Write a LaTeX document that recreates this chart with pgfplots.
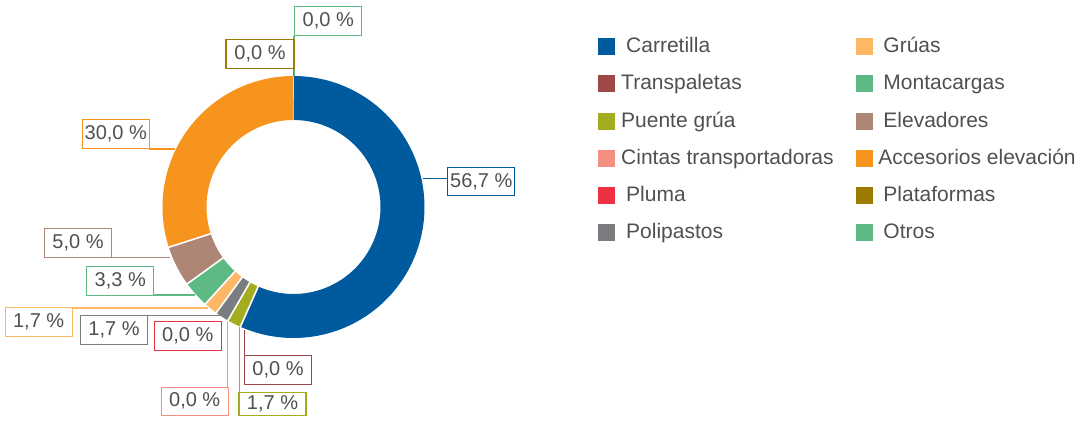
\documentclass[border=0pt]{standalone}
\usepackage{pgfplots}
\pgfplotsset{compat=1.18}
\usepackage{fontspec}
\setmainfont{Liberation Sans}
\definecolor{cCar}{HTML}{005A9E}
\definecolor{cTra}{HTML}{A04848}
\definecolor{cPue}{HTML}{A3AD1F}
\definecolor{cCin}{HTML}{F39080}
\definecolor{cPlu}{HTML}{EE3142}
\definecolor{cPol}{HTML}{7B7C80}
\definecolor{cGru}{HTML}{FDB765}
\definecolor{cMon}{HTML}{5DBA84}
\definecolor{cEle}{HTML}{AE8675}
\definecolor{cAcc}{HTML}{F7941E}
\definecolor{cPla}{HTML}{9C7B00}
\definecolor{cOtr}{HTML}{5DBA84}
\definecolor{txt}{HTML}{505050}
% sector: color, cumulative start (%), value (%)
\newcommand\sector[3]{%
  \pgfmathsetmacro\aS{90-3.6*(#2)/1.001}%
  \pgfmathsetmacro\aE{90-3.6*((#2)+(#3))/1.001}%
  \edef\tmp{\noexpand\addplot[draw=#1, line width=22pt, domain=\aE:\aS, samples=120, forget plot] ({293.5+109*cos(x)},{215+109*sin(x)});}%
  \tmp
  \edef\tmp{\noexpand\addplot[draw=white, line width=0.8pt, domain=84:134, samples=2, forget plot] ({293.5+x*cos(\aS)},{215+x*sin(\aS)});}%
  \tmp
}
\newcommand\legsq[2]{\addlegendimage{legend image code/.code={\fill[#1] (0pt,-4pt) rectangle (8pt,4pt);}}\addlegendentry{#2}}
\tikzset{lab/.style={draw=#1, line width=0.6pt, minimum width=33.5pt, minimum height=14.5pt, inner sep=0pt, text=txt, font=\fontsize{10}{12}\selectfont},
  lead/.style={draw=#1, line width=0.6pt}}
\begin{document}
\begin{tikzpicture}
\begin{axis}[
  width=545.5pt, height=211pt, scale only axis,
  xmin=0, xmax=1091, ymin=0, ymax=422,
  hide axis, clip=false,
  legend columns=2,
  legend cell align=left,
  legend style={at={(axis cs:598,389)}, anchor=north west, draw=none, fill=none,
    inner sep=0pt, row sep=5.4pt, text=txt,
    font=\fontsize{10.5}{12}\selectfont,
    /tikz/every odd column/.style={column sep=1pt},
    /tikz/every even column/.style={column sep=9pt}},
]
\addplot[draw=none, forget plot] coordinates {(0,0) (1091,422)};
% values in %, clockwise from top
\sector{cCar}{0}{56.7}
\sector{cPue}{56.7}{1.7}
\sector{cPol}{58.4}{1.7}
\sector{cGru}{60.1}{1.7}
\sector{cMon}{61.8}{3.3}
\sector{cEle}{65.1}{5.0}
\sector{cAcc}{70.1}{30.0}
% legend (row-wise order)
\legsq{cCar}{\hspace{2.5pt}Carretilla}
\legsq{cGru}{\hspace{2.5pt}Grúas}
\legsq{cTra}{Transpaletas}
\legsq{cMon}{\hspace{2.5pt}Montacargas}
\legsq{cPue}{Puente grúa}
\legsq{cEle}{\hspace{2.5pt}Elevadores}
\legsq{cCin}{Cintas transportadoras}
\legsq{cAcc}{Accesorios elevación}
\legsq{cPlu}{\hspace{2.5pt}Pluma}
\legsq{cPla}{\hspace{2.5pt}Plataformas}
\legsq{cPol}{\hspace{2.5pt}Polipastos}
\legsq{cOtr}{\hspace{2.5pt}Otros}
% data labels
\draw[lead=cOtr] (axis cs:294,386) -- (axis cs:294,346);
\node[lab=cOtr, minimum height=14.5pt] at (axis cs:328.3,400.7) {0,0 \%};
\draw[lead=cPla] (axis cs:293.5,353) -- (axis cs:293.5,346);
\node[lab=cPla, minimum width=34pt] at (axis cs:260,367.8) {0,0 \%};
\draw[lead=cAcc] (axis cs:149.3,273) -- (axis cs:175,273);
\node[lab=cAcc] at (axis cs:115.8,287.8) {30,0 \%};
\draw[lead=cCar] (axis cs:423,243.7) -- (axis cs:447.7,243.7);
\node[lab=cCar, minimum height=14pt] at (axis cs:481.3,240.3) {56,7 \%};
\draw[lead=cEle] (axis cs:111,164.7) -- (axis cs:170,164.7);
\node[lab=cEle] at (axis cs:78,179.2) {5,0 \%};
\draw[lead=cMon] (axis cs:154,127) -- (axis cs:195,127);
\node[lab=cMon] at (axis cs:120.3,141.2) {3,3 \%};
\draw[lead=cGru] (axis cs:72.3,114) -- (axis cs:208.3,114);
\node[lab=cGru] at (axis cs:38.7,99.8) {1,7 \%};
\draw[lead=cPol] (axis cs:147.3,106.3) -- (axis cs:220.7,106.3);
\node[lab=cPol] at (axis cs:114,92) {1,7 \%};
\node[lab=cPlu] at (axis cs:187.8,86.2) {0,0 \%};
\draw[lead=cCin] (axis cs:227.5,100) -- (axis cs:227.5,34.7);
\node[lab=cCin, minimum height=14pt] at (axis cs:194.7,20.8) {0,0 \%};
\draw[lead=cTra] (axis cs:244.3,92) -- (axis cs:244.3,67);
\node[lab=cTra] at (axis cs:278,52.3) {0,0 \%};
\draw[lead=cPue] (axis cs:239.3,95.3) -- (axis cs:239.3,29.3);
\node[lab=cPue, minimum height=11.5pt] at (axis cs:272.5,17.8) {1,7 \%};
\end{axis}
\end{tikzpicture}
\end{document}
